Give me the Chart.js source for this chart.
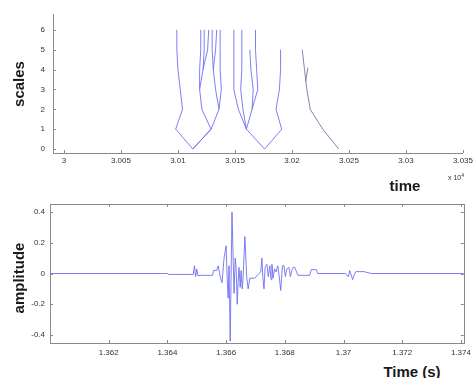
<!DOCTYPE html>
<html>
<head>
<meta charset="utf-8">
<script src="https://cdn.jsdelivr.net/npm/chart.js@4/dist/chart.umd.min.js"></script>
<style>
  body { margin: 0; width: 476px; height: 378px; background: #fff; position: relative; overflow: hidden; font-family: 'Liberation Sans', Arial, sans-serif; }
  .box { position: absolute; left: 0; width: 476px; }
  .lbl { position: absolute; font-weight: bold; font-size: 15px; color: #1a1a1a; white-space: nowrap; }
  .rot { transform: translate(-50%, -50%) rotate(-90deg); }
  .ctr { transform: translate(-50%, -50%); }
</style>
</head>
<body>
<div class="box" style="top:0;height:172px"><canvas id="scalesChart"></canvas></div>
<div class="box" style="top:190px;height:170px"><canvas id="ampChart"></canvas></div>

<div class="lbl rot" style="left:18px;top:84px">scales</div>
<div class="lbl ctr" style="left:405px;top:185px">time</div>
<div style="position:absolute;left:448px;top:172px;font-size:7px;color:#333">x 10<sup style="font-size:5px">4</sup></div>
<div class="lbl rot" style="left:18px;top:278px">amplitude</div>
<div class="lbl ctr" style="left:412px;top:371px">Time (s)</div>

<script>
// top plot: wavelet maxima lines, time of each line at scales 0..6
const ridgeScales = [0, 1, 2, 3, 4, 5, 6];
const ridgeA = [3.0113, 3.0098, 3.0104, 3.0102, 3.0100, 3.0099, 3.0099];
const ridgeB = [3.0113, 3.0129, 3.0121, 3.0119, 3.0119, 3.0120, 3.0120];
const ridgeC = [3.0113, 3.0129, 3.0136, 3.0138, 3.0137, 3.0137, 3.0137];
const ridgeD = [null, null, null, 3.0119, 3.0122, 3.0123, 3.0123];
const ridgeE = [null, null, null, null, 3.0122, 3.0126, 3.0127];
const ridgeF = [null, null, 3.0136, 3.0133, 3.0131, 3.0130, 3.0130];
const ridgeG = [null, null, null, null, 3.0131, 3.0133, 3.0134];
const ridgeH = [3.0176, 3.0160, 3.0153, 3.0149, 3.0149, 3.0149, 3.0149];
const ridgeI = [null, 3.0160, 3.0157, 3.0155, 3.0156, 3.0156, 3.0156];
const ridgeJ = [null, 3.0160, 3.0165, 3.0170, 3.0169, 3.0168, 3.0168];
const ridgeK = [null, null, 3.0165, 3.0166, 3.0164, 3.0163, null];
const ridgeL = [3.0176, 3.0191, 3.0186, 3.0189, 3.0190, 3.0190, null];
const ridgeM = [3.0241, 3.0227, 3.0216, 3.0213, 3.0211, 3.0209, null];
const ridgeNScales = [3.4, 4.1];
const ridgeN = [3.0212, 3.0214];

const scaleTicks = [0, 1, 2, 3, 4, 5, 6];
const timeTicks = [3, 3.005, 3.01, 3.015, 3.02, 3.025, 3.03, 3.035];
const timeTickLabels = ['3', '3.005', '3.01', '3.015', '3.02', '3.025', '3.03', '3.035'];

// bottom plot: signal
const sigTime = [1.3600, 1.3640, 1.36405, 1.36488, 1.36492, 1.36496, 1.36500, 1.36504, 1.36512, 1.36554,
  1.36557, 1.36568, 1.36573, 1.36580, 1.36586, 1.36593, 1.36600, 1.36604, 1.36607, 1.36610,
  1.36614, 1.36620, 1.36627, 1.36631, 1.36634, 1.36638, 1.36641, 1.36644, 1.36648, 1.36651,
  1.36655, 1.36658, 1.36664, 1.36670, 1.36675, 1.36681, 1.36698, 1.36712, 1.36718, 1.36722,
  1.36725, 1.36729, 1.36733, 1.36739, 1.36744, 1.36749, 1.36753, 1.36756, 1.36760, 1.36765,
  1.36770, 1.36776, 1.36781, 1.36786, 1.36792, 1.36797, 1.36802, 1.36807, 1.36814, 1.36819,
  1.36824, 1.36829, 1.36834, 1.36841, 1.36845, 1.36885, 1.36890, 1.36908, 1.36912, 1.37007,
  1.37012, 1.37017, 1.37021, 1.37026, 1.37031, 1.37036, 1.37042, 1.37070, 1.37095, 1.3741];
const sigAmp = [0, 0, -0.006, -0.006, 0.05, -0.02, 0.03, -0.015, -0.012, -0.012,
  0.02, 0.02, 0.05, -0.02, -0.06, 0.1, 0.18, -0.05, -0.16, 0.05,
  -0.44, 0.4, -0.13, 0.1, 0.04, -0.2, -0.05, 0.04, -0.09, 0.02,
  -0.1, -0.02, 0.24, -0.02, -0.1, -0.03, -0.03, 0, 0.01, 0.1,
  -0.02, -0.1, 0.04, 0.06, -0.02, 0.05, -0.04, 0.06, -0.03, 0.03,
  0.01, 0.05, -0.02, -0.11, 0.05, 0.05, -0.02, 0.03, 0.04, -0.02,
  0.02, 0.04, 0.04, 0.005, -0.012, -0.012, 0.025, 0.025, 0, 0,
  -0.015, -0.02, 0.02, -0.01, -0.04, -0.01, 0.012, 0.012, 0, 0];

const ampTicks = [-0.4, -0.2, 0, 0.2, 0.4];
const ampTickLabels = ['-0.4', '-0.2', '0', '0.2', '0.4'];
const secTicks = [1.362, 1.364, 1.366, 1.368, 1.37, 1.372, 1.374];
const secTickLabels = ['1.362', '1.364', '1.366', '1.368', '1.37', '1.372', '1.374'];

const blue = 'rgba(105,105,240,0.85)';
const grey = 'rgba(125,115,160,0.9)';
const axisCol = '#8a8a8a';
const tickFont = { family: 'Liberation Sans', size: 8 };

const toPts = (times, scales) => times
  .map((t, i) => ({ x: t, y: scales[i] }))
  .filter(p => p.x !== null);

const ridge = (times, color, scales = ridgeScales) => ({
  data: toPts(times, scales),
  borderColor: color,
  borderWidth: 1,
  pointRadius: 0,
  showLine: true,
  tension: 0,
});

// MATLAB style tick marks pointing into the plot
const insideTicks = (box) => ({
  id: 'insideTicks',
  afterDraw(chart) {
    const { ctx, chartArea: a, scales } = chart;
    ctx.save();
    ctx.strokeStyle = axisCol;
    ctx.lineWidth = 1;
    ctx.beginPath();
    scales.x.ticks.forEach(t => {
      const px = Math.round(scales.x.getPixelForValue(t.value)) + 0.5;
      ctx.moveTo(px, a.bottom); ctx.lineTo(px, a.bottom - 3);
      if (box) { ctx.moveTo(px, a.top); ctx.lineTo(px, a.top + 3); }
    });
    scales.y.ticks.forEach(t => {
      const py = Math.round(scales.y.getPixelForValue(t.value)) + 0.5;
      ctx.moveTo(a.left, py); ctx.lineTo(a.left + 3, py);
      if (box) { ctx.moveTo(a.right, py); ctx.lineTo(a.right - 3, py); }
    });
    ctx.stroke();
    if (box) {
      ctx.strokeRect(Math.round(a.left) + 0.5, Math.round(a.top) + 0.5,
        Math.round(a.right - a.left), Math.round(a.bottom - a.top));
    }
    ctx.restore();
  },
});

const axis = (min, max, ticks, labels, size, pad, isY) => ({
  type: 'linear',
  min: min,
  max: max,
  afterBuildTicks: s => { s.ticks = ticks.map(v => ({ value: v })); },
  afterFit: s => { if (isY) s.width = size; else s.height = size; },
  grid: { display: true, drawOnChartArea: false, drawTicks: false },
  border: { display: true, color: axisCol, width: 1 },
  ticks: {
    autoSkip: false,
    maxRotation: 0,
    padding: pad,
    color: '#333',
    font: tickFont,
    callback: (v, i) => labels[i],
  },
});

const baseOpts = (padTop) => ({
  responsive: true,
  maintainAspectRatio: false,
  animation: false,
  devicePixelRatio: 1,
  layout: { padding: { top: padTop, right: 10, left: 0, bottom: 0 } },
  plugins: { legend: { display: false }, tooltip: { enabled: false } },
});

new Chart(document.getElementById('scalesChart'), {
  type: 'scatter',
  data: {
    datasets: [
      ridge(ridgeA, blue), ridge(ridgeB, blue), ridge(ridgeC, blue),
      ridge(ridgeD, blue), ridge(ridgeE, blue), ridge(ridgeF, blue),
      ridge(ridgeG, blue), ridge(ridgeH, blue), ridge(ridgeI, blue),
      ridge(ridgeJ, blue), ridge(ridgeK, blue), ridge(ridgeL, blue),
      ridge(ridgeM, grey), ridge(ridgeN, grey, ridgeNScales),
    ],
  },
  options: {
    ...baseOpts(14),
    scales: {
      x: axis(2.99904, 3.035, timeTicks, timeTickLabels, 19, 3, false),
      y: axis(-0.2, 6.8, scaleTicks, scaleTicks.map(String), 53, 8, true),
    },
  },
  plugins: [insideTicks(false)],
});

new Chart(document.getElementById('ampChart'), {
  type: 'scatter',
  data: {
    datasets: [{
      data: toPts(sigTime, sigAmp),
      borderColor: blue,
      borderWidth: 1,
      pointRadius: 0,
      showLine: true,
      tension: 0,
    }],
  },
  options: {
    ...baseOpts(14),
    scales: {
      x: axis(1.36, 1.3741, secTicks, secTickLabels, 17, 5, false),
      y: axis(-0.452, 0.452, ampTicks, ampTickLabels, 50, 5, true),
    },
  },
  plugins: [insideTicks(true)],
});
</script>
</body>
</html>
